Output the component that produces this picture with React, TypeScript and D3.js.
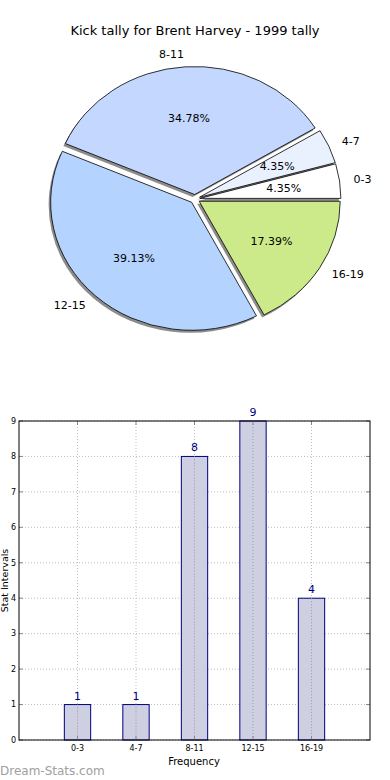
import * as d3 from 'd3';

const categories = ['0-3', '4-7', '8-11', '12-15', '16-19'];
const counts = [1, 1, 8, 9, 4];
const sliceColors = ['#ffffff', '#e9f1ff', '#c4d8ff', '#b4d4ff', '#cdea8b'];
const yTicks = [0, 1, 2, 3, 4, 5, 6, 7, 8, 9];

const W = 390;
const H = 780;
const font = 'DejaVu Sans, sans-serif';

// pie geometry (old matplotlib pie, not equal aspect -> ellipse)
const cx = 195;
const cy = 199;
const rx = 141;
const ry = 128;
const explode = 0.035;

// bar chart frame
const plot = { left: 19, right: 370, top: 421, bottom: 740 };

export default function App() {
  const total = d3.sum(counts);
  // matplotlib starts at 3 o'clock and goes counter-clockwise
  const pie = d3
    .pie<number>()
    .sort(null)
    .startAngle(Math.PI / 2)
    .endAngle(Math.PI / 2 - 2 * Math.PI);
  const arcs = pie(counts);
  const arc = d3.arc<d3.PieArcDatum<number>>().innerRadius(0).outerRadius(100);

  const x = d3.scaleLinear().domain([-1, 5]).range([plot.left, plot.right]);
  const y = d3.scaleLinear().domain([0, 9]).range([plot.bottom, plot.top]);
  const barW = x(0.45) - x(0);

  return (
    <svg width={W} height={H} style={{ position: 'absolute', left: 0, top: 0, background: '#fff' }}>
      <text x={195} y={35} textAnchor="middle" fontFamily={font} fontSize={13} fill="#000">
        Kick tally for Brent Harvey - 1999 tally
      </text>

      {/* shadows */}
      {arcs.map((a, i) => {
        const mid = (a.startAngle + a.endAngle) / 2;
        const ox = cx + explode * rx * Math.sin(mid) - 2;
        const oy = cy - explode * ry * Math.cos(mid) + 2.5;
        return (
          <path
            key={'s' + i}
            d={arc(a) || ''}
            transform={`translate(${ox},${oy}) scale(${rx / 100},${ry / 100})`}
            fill="#000"
            fillOpacity={0.45}
            stroke="none"
          />
        );
      })}

      {arcs.map((a, i) => {
        const mid = (a.startAngle + a.endAngle) / 2;
        const ox = cx + explode * rx * Math.sin(mid);
        const oy = cy - explode * ry * Math.cos(mid);
        return (
          <path
            key={'p' + i}
            d={arc(a) || ''}
            transform={`translate(${ox},${oy}) scale(${rx / 100},${ry / 100})`}
            fill={sliceColors[i]}
            stroke="#000"
            strokeWidth={0.8}
            vectorEffect="non-scaling-stroke"
          />
        );
      })}

      {arcs.map((a, i) => {
        const mid = (a.startAngle + a.endAngle) / 2;
        const ox = cx + explode * rx * Math.sin(mid);
        const oy = cy - explode * ry * Math.cos(mid);
        const lx = ox + 1.1 * rx * Math.sin(mid);
        const ly = oy - 1.1 * ry * Math.cos(mid);
        const px = ox + 0.6 * rx * Math.sin(mid);
        const py = oy - 0.6 * ry * Math.cos(mid);
        return (
          <g key={'l' + i} fontFamily={font} fontSize={11} fill="#000">
            <text x={lx} y={ly} dy="0.35em" textAnchor={lx > ox ? 'start' : 'end'}>
              {categories[i]}
            </text>
            <text x={px} y={py} dy="0.35em" textAnchor="middle">
              {((counts[i] / total) * 100).toFixed(2)}%
            </text>
          </g>
        );
      })}

      {/* bar chart */}
      <g>
        {yTicks.map((t) => (
          <line
            key={'gy' + t}
            x1={plot.left}
            x2={plot.right}
            y1={y(t)}
            y2={y(t)}
            stroke="#bdbdbd"
            strokeWidth={1}
            strokeDasharray="1,2"
          />
        ))}
        {categories.map((c, i) => (
          <line
            key={'gx' + c}
            x1={x(i)}
            x2={x(i)}
            y1={plot.top}
            y2={plot.bottom}
            stroke="#bdbdbd"
            strokeWidth={1}
            strokeDasharray="1,2"
          />
        ))}
        {counts.map((v, i) => (
          <rect
            key={'b' + i}
            x={x(i) - barW / 2}
            y={y(v)}
            width={barW}
            height={y(0) - y(v)}
            fill="#cccce0"
            fillOpacity={0.95}
            stroke="#000080"
            strokeWidth={1}
          />
        ))}
        {categories.map((c, i) => (
          <line key={'gx2' + c} x1={x(i)} x2={x(i)} y1={y(counts[i])} y2={plot.bottom} stroke="#9a9ab0" strokeWidth={1} strokeDasharray="1,2" />
        ))}
        {yTicks.map((t) => (
          <g key={'ty' + t}>
            <line x1={plot.left} x2={plot.left + 4} y1={y(t)} y2={y(t)} stroke="#888" />
            <line x1={plot.right - 4} x2={plot.right} y1={y(t)} y2={y(t)} stroke="#888" />
            <text x={plot.left - 3} y={y(t)} dy="0.35em" textAnchor="end" fontFamily={font} fontSize={8} fill="#000">
              {t}
            </text>
          </g>
        ))}
        {categories.map((c, i) => (
          <g key={'tx' + c}>
            <line x1={x(i)} x2={x(i)} y1={plot.bottom} y2={plot.bottom - 4} stroke="#888" />
            <line x1={x(i)} x2={x(i)} y1={plot.top} y2={plot.top + 4} stroke="#888" />
            <text x={x(i)} y={plot.bottom + 11} textAnchor="middle" fontFamily={font} fontSize={8} fill="#000">
              {c}
            </text>
          </g>
        ))}
        {counts.map((v, i) => (
          <text
            key={'v' + i}
            x={x(i)}
            y={y(v) - 5}
            textAnchor="middle"
            fontFamily={font}
            fontSize={11}
            fill="#000080"
          >
            {v}
          </text>
        ))}
        <rect
          x={plot.left}
          y={plot.top}
          width={plot.right - plot.left}
          height={plot.bottom - plot.top}
          fill="none"
          stroke="#000"
          strokeWidth={1}
        />
        <text x={194} y={765} textAnchor="middle" fontFamily={font} fontSize={10} fill="#000">
          Frequency
        </text>
        <text
          transform={`translate(8,${(plot.top + plot.bottom) / 2}) rotate(-90)`}
          textAnchor="middle"
          fontFamily={font}
          fontSize={9.5}
          fill="#000"
        >
          Stat Intervals
        </text>
      </g>

      <text x={0} y={775} fontFamily={font} fontSize={12} fill="#a0a0a0">
        Dream-Stats.com
      </text>
    </svg>
  );
}
